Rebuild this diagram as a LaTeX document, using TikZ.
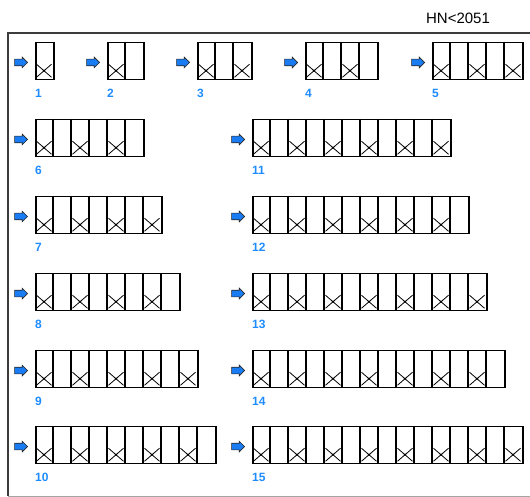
\documentclass[tikz,border=0pt]{standalone}
\usepackage{fontspec}
\setmainfont{Liberation Sans}
\usetikzlibrary{positioning,shapes.arrows,calc}
\definecolor{numblue}{HTML}{1E8CFF}
\definecolor{arrowblue}{HTML}{1A7CF2}
\definecolor{framegray}{HTML}{3C3C3C}
\def\cw{18}

\begin{document}
\begin{tikzpicture}[x=1pt, y=-1pt,
  rack/.style={draw, line width=1.5pt, minimum height=37pt, inner sep=0pt, anchor=west},
  feed/.style={single arrow, fill=arrowblue, draw=black!85, line width=0.6pt, minimum height=13pt, text height=3pt, text depth=3pt, text width=0pt, single arrow head extend=2pt, inner sep=0pt},
  num/.style={font=\fontsize{12}{12}\selectfont\bfseries, text=numblue, inner sep=0pt},
  sep/.style={line width=1.5pt},
  valve/.style={line width=0.8pt}]
\useasboundingbox (0,0) rectangle (530,497);
% frame and title
\draw[framegray, line width=1.6pt] (530,33) -- (8,33) -- (8,496);
\draw[black!35, line width=1pt] (8,496) -- (530,496);
\node[font=\fontsize{15}{15}\selectfont] (title) at (458,18) {HN<2051};
% racks
\foreach \n/\x/\y in {1/35/61,2/107/61,3/197/61,4/305/61,5/432/61,
  6/35/138,7/35/215,8/35/292,9/35/369,10/35/445,
  11/252/138,12/252/215,13/252/292,14/252/369,15/252/445} {
  \node[rack, minimum width=\n*\cw pt] (b\n) at (\x,\y) {};
  \node[feed, left=7pt of b\n, yshift=-1.5pt] (a\n) {};
  \node[num, below right=9pt and 0pt of b\n.south west] (l\n) {\n};
  \foreach \k in {1,...,\n} {
    \ifnum\k<\n
      \draw[sep] ($(b\n.north west)+(\k*\cw,0)$) -- ($(b\n.south west)+(\k*\cw,0)$);
    \fi
    \ifodd\k
      \draw[valve] ($(b\n.south west)+(\k*\cw-\cw+1.5,-16)$) -- ($(b\n.south west)+(\k*\cw-1.5,-3)$)
        ($(b\n.south west)+(\k*\cw-\cw+1.5,-3)$) -- ($(b\n.south west)+(\k*\cw-1.5,-16)$);
      \fill ($(b\n.south west)+(\k*\cw-\cw/2,-9.5)$) circle (1.3pt);
    \fi
  }
}
\end{tikzpicture}
\end{document}
